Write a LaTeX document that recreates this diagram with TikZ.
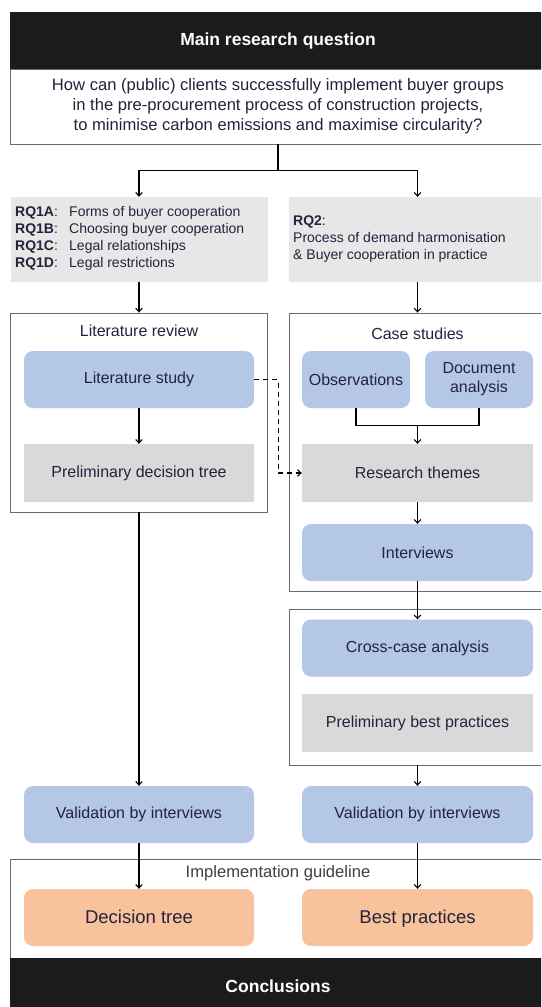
\documentclass[tikz,border=0pt]{standalone}
\usepackage{fontspec}
\setmainfont{Liberation Sans}
\usetikzlibrary{arrows.meta}

\definecolor{headbg}{HTML}{1B1B1B}
\definecolor{ink}{HTML}{23233C}
\definecolor{bluebox}{HTML}{B4C7E7}
\definecolor{greybox}{HTML}{D9D9D9}
\definecolor{rqbox}{HTML}{E7E7E7}
\definecolor{peach}{HTML}{F8C39C}
\definecolor{framecol}{HTML}{6A6A6A}
\definecolor{guidetext}{HTML}{404040}

\tikzset{
  header/.style={fill=headbg, text=white, font=\bfseries\fontsize{17.5}{20}\selectfont,
    minimum width=536pt, minimum height=57pt, inner sep=0pt},
  framebox/.style={draw=framecol, line width=0.9pt, fill=none, inner sep=0pt},
  boxtext/.style={text=ink, font=\fontsize{16}{19}\selectfont, align=center, inner sep=0pt},
  bluenode/.style={boxtext, fill=bluebox, rounded corners=9pt, minimum height=57pt},
  greynode/.style={boxtext, fill=greybox, minimum height=58pt},
  peachnode/.style={boxtext, fill=peach, rounded corners=9pt, minimum height=57pt,
    font=\fontsize{18.5}{22}\selectfont, text height=15pt, text depth=2.5pt},
  rqnode/.style={fill=rqbox, minimum width=257pt, minimum height=85pt, inner sep=0pt},
  rqtext/.style={text=ink, font=\fontsize{14}{17}\selectfont, align=left, inner sep=0pt, anchor=west},
  frametitle/.style={text=ink, font=\fontsize{16}{19}\selectfont, inner sep=0pt},
  flow/.style={line width=1.1pt, -{Straight Barb[length=3.5pt,width=6.5pt]}},
  link/.style={line width=1.1pt},
  dashflow/.style={flow, dash pattern=on 5pt off 4pt}
}

\begin{document}
\begin{tikzpicture}[x=1pt,y=-1pt]
\clip (0,0) rectangle (541,1007);
\fill[white] (0,0) rectangle (541,1007);

% main question
\node[header] (head) at (278,40.5) {Main research question};
\node[draw=framecol, line width=0.9pt, fill=white, minimum width=536pt, minimum height=75pt,
      inner sep=0pt, text=ink, font=\fontsize{16.6}{20}\selectfont, align=center]
  (question) at (278,106.5)
  {How can (public) clients successfully implement buyer groups\\
   in the pre-procurement process of construction projects,\\
   to minimise carbon emissions and maximise circularity?};

% research questions
\node[rqnode] (rq1) at (139,239.5) {};
\node[rqtext] (rq1txt) at (15,238.5)
  {\makebox[54pt][l]{\textbf{RQ1A}:}Forms of buyer cooperation\\
   \makebox[54pt][l]{\textbf{RQ1B}:}Choosing buyer cooperation\\
   \makebox[54pt][l]{\textbf{RQ1C}:}Legal relationships\\
   \makebox[54pt][l]{\textbf{RQ1D}:}Legal restrictions};
\node[rqnode] (rq2) at (417.5,239.5) {};
\node[rqtext] (rq2txt) at (293,239)
  {\textbf{RQ2}:\\
   Process of demand harmonisation\\
   \& Buyer cooperation in practice};

% literature review
\node[framebox, minimum width=257pt, minimum height=199pt] (litframe) at (138.5,412.5) {};
\node[frametitle] (littitle) at (139,331) {Literature review};
\node[bluenode, minimum width=230pt] (litstudy) at (139,379.5) {Literature study};
\node[greynode, minimum width=230pt] (pretree) at (139,473) {Preliminary decision tree};

% case studies
\node[framebox, minimum width=257pt, minimum height=278pt] (caseframe) at (417.5,452) {};
\node[frametitle] (casetitle) at (417.5,334) {Case studies};
\node[bluenode, minimum width=108pt] (obs) at (356,379.5) {Observations};
\node[bluenode, minimum width=108pt] (doc) at (479,379.5) {Document\\analysis};
\node[greynode, minimum width=231pt] (themes) at (417.5,473) {Research themes};
\node[bluenode, minimum width=231pt] (interviews) at (417.5,552.5) {Interviews};

% cross-case
\node[framebox, minimum width=257pt, minimum height=156pt] (crossframe) at (417.5,687) {};
\node[bluenode, minimum width=231pt] (cross) at (417.5,648) {Cross-case analysis};
\node[greynode, minimum width=231pt] (prebest) at (417.5,723) {Preliminary best practices};

% validation
\node[bluenode, minimum width=230pt] (val1) at (139,814.5) {Validation by interviews};
\node[bluenode, minimum width=231pt] (val2) at (417.5,814.5) {Validation by interviews};

% implementation guideline
\node[framebox, fill=white, minimum width=536pt, minimum height=99pt] (implframe) at (278,908.5) {};
\node[frametitle, text=guidetext, font=\fontsize{16.6}{19}\selectfont] (impltitle) at (278,873) {Implementation guideline};
\node[peachnode, minimum width=230pt] (dtree) at (139,917.5) {Decision tree};
\node[peachnode, minimum width=231pt] (best) at (417.5,917.5) {Best practices};

% conclusions
\node[header] (concl) at (278,986.5) {Conclusions};

% connectors
\draw[link] (question.south) -- ++(0,26) coordinate (split);
\draw[flow] (split) -| (rq1.north);
\draw[flow] (split) -| (rq2.north);
\draw[flow] (rq1.south) -- (rq1.south |- litframe.north);
\draw[flow] (rq2.south) -- (rq2.south |- caseframe.north);
\draw[flow] (litstudy) -- (pretree);
\coordinate (join) at ([yshift=18pt]themes.north);
\draw[link] (obs.south) |- (join) -| (doc.south);
\draw[flow] (join) -- (themes.north);
\draw[dashflow] (litstudy.east) -- ++(24,0) |- (themes.west);
\draw[flow] (themes) -- (interviews);
\draw[flow] (interviews) -- (cross);
\draw[flow] (crossframe.south) -- (val2.north);
\draw[flow] (litframe.south -| val1.north) -- (val1.north);
\draw[flow] (val1) -- (dtree);
\draw[flow] (val2) -- (best);
\end{tikzpicture}
\end{document}
